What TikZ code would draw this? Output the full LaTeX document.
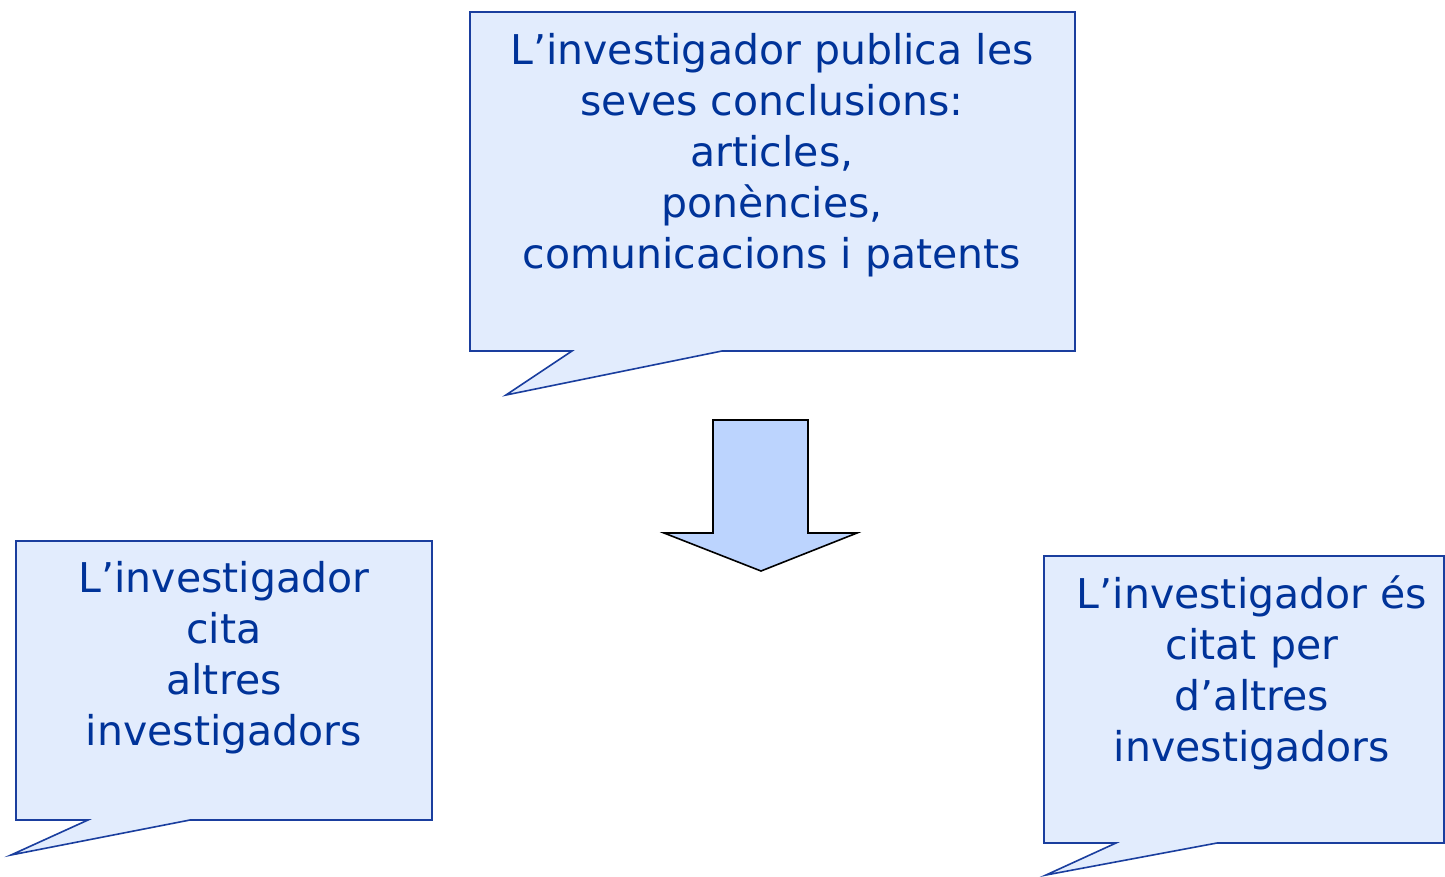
\documentclass[tikz,border=0pt]{standalone}
\usepackage{fontspec}
\setmainfont{DejaVu Sans}
\definecolor{calloutfill}{HTML}{E2ECFD}
\definecolor{calloutline}{HTML}{1A3E9E}
\definecolor{callouttext}{HTML}{003399}
\definecolor{arrowfill}{HTML}{BCD4FE}
\tikzset{
  callout/.style={draw=calloutline,fill=calloutfill,line width=1.6pt,join=miter},
  callouttxt/.style={align=center,inner sep=0pt,text=callouttext,font=\fontsize{41}{51}\selectfont},
  downarrow/.style={draw=black,fill=arrowfill,line width=1.6pt,join=miter}
}
\begin{document}
\begin{tikzpicture}[x=1pt,y=-1pt]%
\useasboundingbox (0,0) rectangle (1445,876);%
% speech bubbles
\draw[callout] (470,12) -- (1075,12) -- (1075,351) -- (722,351) -- (506,395) -- (572,351) -- (470,351) -- cycle;%
\draw[callout] (16,541) -- (432,541) -- (432,820) -- (190,820) -- (11,855) -- (88,820) -- (16,820) -- cycle;%
\draw[callout] (1044,556) -- (1444,556) -- (1444,843) -- (1217,843) -- (1046,875) -- (1116,843) -- (1044,843) -- cycle;%
% block arrow
\draw[downarrow] (713,420) -- (808,420) -- (808,533) -- (857,533) -- (761,571) -- (664,533) -- (713,533) -- cycle;%
% texts
\node[callouttxt] (publica) at (772,155) {L’investigador publica les\\seves conclusions:\\articles,\\ponències,\\comunicacions i patents};%
\node[callouttxt] (cita) at (224,658) {L’investigador\\cita\\altres\\investigadors};%
\node[callouttxt] (citat) at (1252,673) {L’investigador és\\citat per\\d’altres\\investigadors};%
\end{tikzpicture}
\end{document}
